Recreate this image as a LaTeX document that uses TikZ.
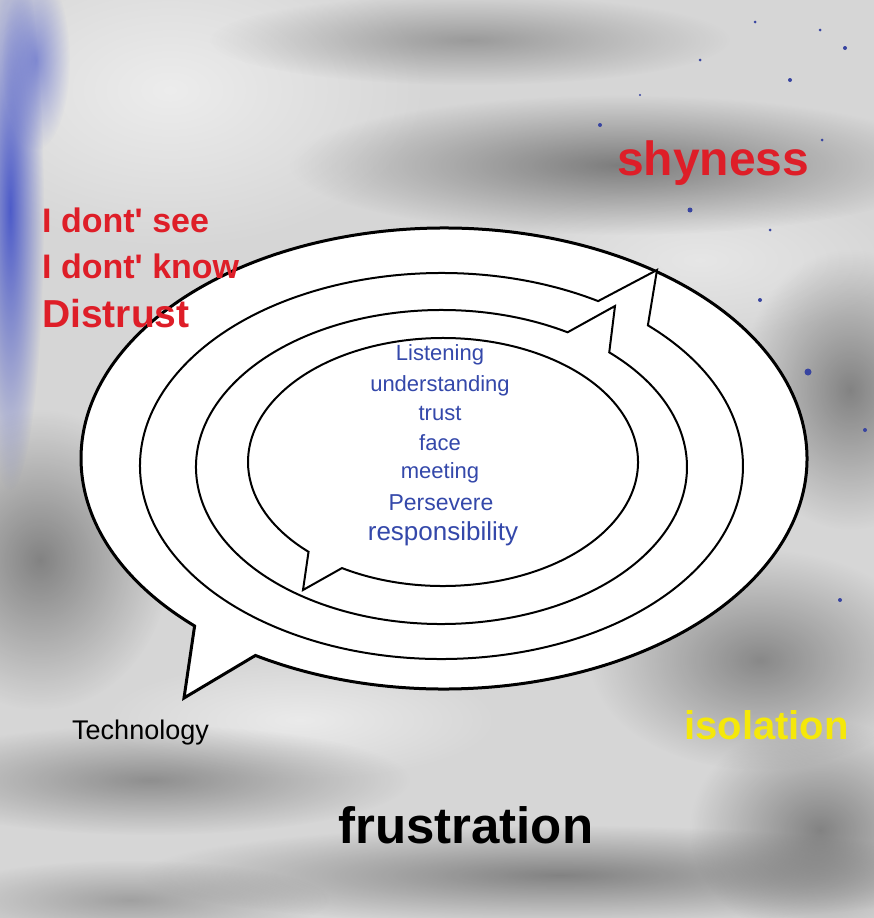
\documentclass[tikz,border=0pt]{standalone}
\usepackage{fontspec}
\setmainfont{Liberation Sans}[Ligatures=TeXOff]
\usetikzlibrary{calc,fadings}
\tikzfading[name=fuzzy, inner color=transparent!0, outer color=transparent!100]
\definecolor{bgcol}{RGB}{214,214,214}
\definecolor{smear}{RGB}{95,95,95}
\definecolor{paint}{RGB}{70,85,200}
\definecolor{redtxt}{RGB}{222,30,40}
\definecolor{bluetxt}{RGB}{52,72,170}
\definecolor{yeltxt}{RGB}{245,232,10}
\tikzset{
  blob/.style={fill=smear, path fading=fuzzy, opacity=#1},
  lightblob/.style={fill=white, path fading=fuzzy, opacity=#1},
  speck/.style={fill=paint!80!black},
  bubble/.style={fill=white, draw=black, line width=2pt, line join=miter},
  outerbubble/.style={bubble, line width=3pt},
  redword/.style={text=redtxt, font=\bfseries\fontsize{34}{40}\selectfont, anchor=base west, inner sep=0pt},
  blueword/.style={text=bluetxt, font=\fontsize{22}{26}\selectfont, anchor=base, inner sep=0pt},
}
\begin{document}
\begin{tikzpicture}[x=1pt,y=1pt]
\useasboundingbox (0,0) rectangle (874,-918);
% background canvas
\fill[bgcol] (0,0) rectangle (874,-918);
\fill[lightblob=0.55] (170,-90) ellipse (260 and 160);
\fill[lightblob=0.5] (300,-720) ellipse (200 and 60);
\fill[lightblob=0.4] (700,-260) ellipse (200 and 80);
\fill[blob=0.75] (620,-165) ellipse (330 and 70);
\fill[blob=0.5] (470,-40) ellipse (260 and 45);
\fill[blob=0.7] (850,-390) ellipse (110 and 140);
\fill[blob=0.7] (40,-560) ellipse (130 and 150);
\fill[blob=0.6] (150,-780) ellipse (260 and 55);
\fill[blob=0.7] (560,-875) ellipse (420 and 50);
\fill[blob=0.65] (760,-660) ellipse (170 and 110);
\fill[blob=0.7] (820,-830) ellipse (130 and 110);
\fill[blob=0.45] (130,-900) ellipse (200 and 40);
\fill[paint, path fading=fuzzy, opacity=0.95] (10,-210) ellipse (34 and 280);
\fill[paint, path fading=fuzzy, opacity=0.6] (36,-60) ellipse (34 and 90);
\foreach \p/\r in {{(600,-125)}/2, {(690,-210)}/2.5, {(790,-80)}/2, {(820,-30)}/1.5,
  {(760,-300)}/2, {(808,-372)}/3.5, {(840,-600)}/2, {(822,-140)}/1.5, {(845,-48)}/2,
  {(700,-60)}/1.5, {(755,-22)}/1.5, {(865,-430)}/2, {(770,-230)}/1.5, {(640,-95)}/1.2}
  \fill[speck] \p circle (\r);
% centres and tips
\coordinate (c1) at (444,-458.5);
\coordinate (c2) at (441.5,-466);
\coordinate (c3) at (441.5,-467);
\coordinate (c4) at (443,-462);
\coordinate (t1) at (184,-698);
\coordinate (t2) at (657,-270);
\coordinate (t3) at (615,-306);
\coordinate (t4) at (303,-590);
% bubbles
\draw[outerbubble] ($(c1)+(238.7:363 and 230.5)$)
  arc[start angle=238.7, end angle=586.6, x radius=363, y radius=230.5] -- (t1) -- cycle;
\draw[bubble] ($(c2)+(58.7:301.5 and 193)$)
  arc[start angle=58.7, end angle=406.8, x radius=301.5, y radius=193] -- (t2) -- cycle;
\draw[bubble] ($(c3)+(59.1:245.5 and 157)$)
  arc[start angle=59.1, end angle=406.9, x radius=245.5, y radius=157] -- (t3) -- cycle;
\draw[bubble] ($(c4)+(238.8:195 and 124)$)
  arc[start angle=238.8, end angle=586.4, x radius=195, y radius=124] -- (t4) -- cycle;
% words
\node[redword, font=\bfseries\fontsize{48}{56}\selectfont] (shy) at (617,-175) {shyness};
\node[redword] (see) at (42,-232) {I dont' see};
\node[redword] (know) at (42,-278) {I dont' know};
\node[redword, font=\bfseries\fontsize{39}{46}\selectfont] (dis) at (42,-327) {Distrust};
\node[blueword] (w1) at (440,-360) {Listening};
\node[blueword] (w2) at (440,-391) {understanding};
\node[blueword] (w3) at (440,-420) {trust};
\node[blueword] (w4) at (440,-450) {face};
\node[blueword] (w5) at (440,-478) {meeting};
\node[blueword, font=\fontsize{23}{27}\selectfont] (w6) at (441,-510) {Persevere};
\node[blueword, font=\fontsize{26}{30}\selectfont] (w7) at (443,-540) {responsibility};
\node[anchor=base west, inner sep=0pt, font=\fontsize{27}{32}\selectfont] (tech) at (72,-739) {Technology};
\node[anchor=base west, inner sep=0pt, text=yeltxt, font=\bfseries\fontsize{40}{48}\selectfont] (iso) at (684,-739) {isolation};
\node[anchor=base west, inner sep=0pt, font=\bfseries\fontsize{51}{60}\selectfont] (fru) at (338,-843) {frustration};
\end{tikzpicture}
\end{document}
